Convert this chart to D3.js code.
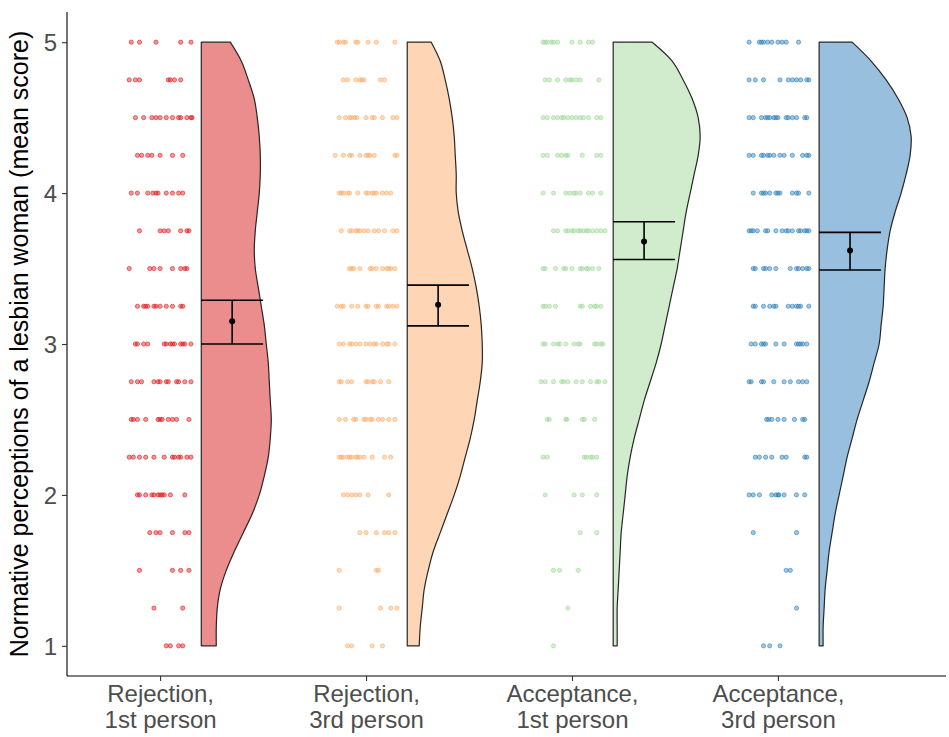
<!DOCTYPE html>
<html>
<head>
<meta charset="utf-8">
<script src="https://cdn.jsdelivr.net/npm/d3@7"></script>
<style>
  body { margin: 0; background: #fff; }
  text { font-family: Arial, "Liberation Sans", sans-serif; }
</style>
</head>
<body>
<svg id="chart" width="949" height="737"></svg>
<script>
// Conditions, in axis order
const categories = [
  "Rejection, 1st person",
  "Rejection, 3rd person",
  "Acceptance, 1st person",
  "Acceptance, 3rd person"
];
const pointColors = ["#e0191c", "#fdae6b", "#a1d99b", "#3182bd"];
const violinColors = ["#d7191c", "#fdae6b", "#a1d99b", "#3182bd"];

// Mean score with lower / upper bound of the interval, per condition
const meanScores = [3.15, 3.26, 3.68, 3.62];
const ciLower = [3.00, 3.12, 3.56, 3.49];
const ciUpper = [3.29, 3.39, 3.81, 3.74];

const yTicks = [1, 2, 3, 4, 5];

// Score grid on which the half-violin densities are estimated
const densityScores = [1.000, 1.125, 1.250, 1.375, 1.500, 1.625, 1.750, 1.875,
  2.000, 2.125, 2.250, 2.375, 2.500, 2.625, 2.750, 2.875,
  3.000, 3.125, 3.250, 3.375, 3.500, 3.625, 3.750, 3.875,
  4.000, 4.125, 4.250, 4.375, 4.500, 4.625, 4.750, 4.875, 5.000];

const densityRej1 = [0.15,0.15,0.16,0.19,0.25,0.33,0.42,0.51,0.58,0.63,0.67,0.69,0.70,0.69,0.68,0.67,
  0.65,0.63,0.60,0.57,0.54,0.53,0.54,0.56,0.58,0.59,0.59,0.58,0.56,0.53,0.47,0.40,0.29];
const densityRej3 = [0.12,0.13,0.15,0.17,0.21,0.26,0.33,0.40,0.47,0.53,0.58,0.63,0.67,0.70,0.73,0.75,
  0.75,0.74,0.72,0.69,0.65,0.60,0.55,0.51,0.49,0.49,0.48,0.47,0.45,0.42,0.38,0.33,0.24];
const densityAcc1 = [0.04,0.04,0.04,0.05,0.06,0.07,0.08,0.10,0.12,0.14,0.17,0.21,0.26,0.31,0.37,0.43,
  0.48,0.52,0.56,0.60,0.64,0.67,0.70,0.73,0.77,0.81,0.85,0.87,0.85,0.79,0.70,0.59,0.39];
const densityAcc3 = [0.04,0.04,0.05,0.06,0.08,0.10,0.13,0.16,0.20,0.24,0.28,0.33,0.38,0.44,0.50,0.55,
  0.60,0.62,0.64,0.65,0.66,0.68,0.71,0.76,0.82,0.87,0.91,0.92,0.88,0.79,0.67,0.52,0.33];

// Individual participant scores: [score, horizontal jitter of each participant at that score]
const scoresRej1 = [
  [5.00, [-0.14,-0.10,-0.02,0.10,0.15]],
  [4.75, [-0.15,-0.12,-0.10,0.04,0.05,0.07,0.10]],
  [4.50, [-0.12,-0.08,-0.04,-0.02,0.00,0.03,0.06,0.09,0.10,0.13,0.15,0.155]],
  [4.25, [-0.11,-0.09,-0.06,-0.04,0.00,0.06,0.11]],
  [4.00, [-0.14,-0.11,-0.06,-0.035,-0.02,-0.01,0.03,0.06,0.09,0.11]],
  [3.75, [-0.10,0.00,0.02,0.04,0.10,0.13,0.14]],
  [3.50, [-0.15,-0.05,-0.03,0.00,0.06,0.10,0.12,0.13]],
  [3.25, [-0.11,-0.08,-0.07,-0.06,-0.03,-0.02,0.00,0.03,0.06,0.10,0.11]],
  [3.00, [-0.12,-0.11,-0.08,-0.06,0.02,0.03,0.05,0.06,0.07,0.10,0.11,0.12,0.15]],
  [2.75, [-0.14,-0.11,-0.09,-0.03,-0.01,0.00,0.03,0.04,0.08,0.09,0.12,0.15]],
  [2.50, [-0.14,-0.13,-0.11,-0.07,-0.01,0.00,0.01,0.04,0.06,0.08,0.14]],
  [2.25, [-0.15,-0.13,-0.10,-0.07,-0.03,0.02,0.06,0.07,0.09,0.10,0.13,0.15]],
  [2.00, [-0.11,-0.10,-0.07,-0.04,-0.03,-0.01,0.00,0.01,0.02,0.05,0.12]],
  [1.75, [-0.05,-0.02,0.00,0.06,0.12,0.14]],
  [1.50, [-0.10,0.06,0.10,0.14]],
  [1.25, [-0.03,0.11]],
  [1.00, [0.03,0.05,0.09,0.11]]
];
const scoresRej3 = [
  [5.00, [-0.14,-0.13,-0.11,-0.10,-0.05,-0.04,0.01,0.05,0.14]],
  [4.75, [-0.11,-0.09,-0.05,-0.03,-0.02,-0.01,0.07,0.09]],
  [4.50, [-0.13,-0.10,-0.08,-0.07,-0.055,-0.045,0.00,0.03,0.04,0.08,0.13,0.15]],
  [4.25, [-0.15,-0.11,-0.08,-0.07,-0.03,0.00,0.01,0.02,0.04,0.14,0.15]],
  [4.00, [-0.13,-0.12,-0.11,-0.09,-0.08,-0.04,0.00,0.01,0.03,0.04,0.05,0.08,0.10,0.12]],
  [3.75, [-0.12,-0.08,-0.07,-0.05,-0.04,-0.03,-0.01,0.01,0.04,0.06,0.09,0.13,0.15]],
  [3.50, [-0.08,-0.07,-0.06,-0.03,0.02,0.03,0.05,0.08,0.10,0.11,0.12,0.14]],
  [3.25, [-0.14,-0.12,-0.11,-0.07,-0.04,0.00,0.01,0.05,0.06,0.10,0.11,0.13,0.15]],
  [3.00, [-0.13,-0.11,-0.08,-0.07,-0.05,-0.03,0.00,0.02,0.04,0.05,0.08,0.10,0.11,0.14]],
  [2.75, [-0.13,-0.12,-0.09,-0.07,0.00,0.01,0.03,0.04,0.07,0.11]],
  [2.50, [-0.13,-0.10,-0.06,-0.05,-0.01,0.00,0.02,0.03,0.06,0.08,0.11,0.14]],
  [2.25, [-0.13,-0.12,-0.11,-0.09,-0.08,-0.07,-0.05,-0.04,-0.03,-0.01,0.03,0.09,0.12]],
  [2.00, [-0.11,-0.09,-0.07,-0.05,-0.03,0.01,0.11]],
  [1.75, [-0.03,0.00,0.05,0.09,0.11,0.14]],
  [1.50, [-0.13,0.05,0.06]],
  [1.25, [-0.13,0.07,0.12,0.15]],
  [1.00, [-0.09,-0.07,0.03,0.08]]
];
const scoresAcc1 = [
  [5.00, [-0.14,-0.13,-0.12,-0.10,-0.09,-0.07,0.00,0.04,0.08,0.10]],
  [4.75, [-0.13,-0.11,-0.07,-0.03,-0.01,0.00,0.02,0.04,0.13]],
  [4.50, [-0.14,-0.12,-0.09,-0.07,-0.05,-0.04,-0.02,0.00,0.02,0.04,0.055,0.08,0.12,0.14]],
  [4.25, [-0.14,-0.12,-0.07,-0.05,-0.03,-0.02,0.05,0.12,0.14]],
  [4.00, [-0.14,-0.09,-0.03,-0.01,0.01,0.02,0.04,0.08,0.10,0.14]],
  [3.75, [-0.09,-0.07,-0.03,-0.02,0.00,0.01,0.03,0.04,0.055,0.07,0.08,0.10,0.12,0.14,0.16]],
  [3.50, [-0.14,-0.13,-0.08,-0.04,-0.03,0.00,0.04,0.05,0.07,0.08,0.10,0.13]],
  [3.25, [-0.14,-0.13,-0.11,-0.08,0.04,0.05,0.09,0.11,0.12,0.14]],
  [3.00, [-0.14,-0.13,-0.09,-0.07,-0.06,-0.03,0.01,0.03,0.04,0.11,0.12,0.14,0.15]],
  [2.75, [-0.15,-0.13,-0.09,-0.05,-0.04,-0.02,0.02,0.05,0.09,0.12,0.13,0.16]],
  [2.50, [-0.12,-0.11,-0.03,-0.025,0.05,0.06,0.11]],
  [2.25, [-0.14,-0.12,0.06,0.07,0.09,0.10,0.12]],
  [2.00, [-0.13,0.01,0.05,0.12]],
  [1.75, [0.04,0.12]],
  [1.50, [-0.09,-0.06,0.03]],
  [1.25, [-0.02]],
  [1.00, [-0.09]]
];
const scoresAcc3 = [
  [5.00, [-0.14,-0.09,-0.08,-0.07,-0.05,-0.03,0.00,0.02,0.04,0.10]],
  [4.75, [-0.14,-0.11,-0.07,0.01,0.05,0.07,0.09,0.11,0.14,0.15]],
  [4.50, [-0.14,-0.12,-0.08,-0.06,-0.05,-0.04,-0.02,-0.01,0.00,0.04,0.05,0.07,0.09,0.13,0.14]],
  [4.25, [-0.14,-0.12,-0.08,-0.07,-0.05,-0.04,-0.02,0.01,0.03,0.07,0.12,0.14,0.15]],
  [4.00, [-0.12,-0.08,-0.07,-0.06,-0.04,-0.01,0.00,0.01,0.07,0.09,0.10,0.15]],
  [3.75, [-0.14,-0.13,-0.12,-0.10,-0.06,-0.05,-0.01,0.02,0.04,0.05,0.07,0.10,0.11,0.13,0.14,0.15]],
  [3.50, [-0.12,-0.11,-0.07,-0.06,-0.04,-0.01,0.06,0.09,0.10,0.12,0.14,0.15]],
  [3.25, [-0.12,-0.11,-0.07,-0.04,-0.02,-0.01,0.05,0.07,0.09,0.10,0.11,0.15]],
  [3.00, [-0.13,-0.11,-0.08,-0.07,-0.06,-0.01,0.03,0.09,0.10,0.11,0.12,0.14]],
  [2.75, [-0.14,-0.13,-0.08,-0.07,-0.02,0.03,0.06,0.10,0.12,0.14]],
  [2.50, [-0.055,-0.045,-0.03,0.00,0.03,0.08,0.12,0.13]],
  [2.25, [-0.11,-0.09,-0.06,-0.03,0.02,0.04,0.13,0.14]],
  [2.00, [-0.14,-0.12,-0.09,-0.03,-0.01,0.00,0.005,0.03,0.09,0.13]],
  [1.75, [-0.12,0.09]],
  [1.50, [0.04,0.06]],
  [1.25, [0.09]],
  [1.00, [-0.07,-0.04,0.01]]
];

const densities = [densityRej1, densityRej3, densityAcc1, densityAcc3];
const participantScores = [scoresRej1, scoresRej3, scoresAcc1, scoresAcc3];

// ---- drawing ----
const svg = d3.select("#chart");
const panel = { left: 67, right: 946, top: 12, bottom: 676 };

// category positions are 1..4; domain leaves room for the half violins on the right
const x = d3.scaleLinear().domain([0.548, 4.816]).range([panel.left, panel.right]);
const y = d3.scaleLinear().domain([0.8, 5.2]).range([panel.bottom, panel.top]);
const violinWidth = d3.scaleLinear().domain([0, 1]).range([0, 100]);

const violinNudge = 0.2;   // half violin starts this far right of the category
const barStart = 0.2, barEnd = 0.5, barMid = 0.35;

// jittered raw scores
categories.forEach((cat, i) => {
  const g = svg.append("g");
  participantScores[i].forEach(([score, offsets]) => {
    g.selectAll(null).data(offsets).enter().append("circle")
      .attr("cx", d => x(i + 1 + d))
      .attr("cy", y(score))
      .attr("r", 2.1)
      .attr("fill", pointColors[i])
      .attr("fill-opacity", 0.45)
      .attr("stroke", pointColors[i])
      .attr("stroke-opacity", 0.75)
      .attr("stroke-width", 0.8);
  });
});

// half violins
categories.forEach((cat, i) => {
  const left = x(i + 1 + violinNudge);
  const pts = densityScores.map((s, k) => ({ score: s, density: densities[i][k] }));
  const area = d3.area()
    .curve(d3.curveCatmullRom)
    .y(d => y(d.score))
    .x0(left)
    .x1(d => left + violinWidth(d.density));
  svg.append("path")
    .attr("d", area(pts))
    .attr("fill", violinColors[i])
    .attr("fill-opacity", 0.5)
    .attr("stroke", "#262626")
    .attr("stroke-width", 1.2)
    .attr("stroke-linejoin", "round");
});

// mean and interval
categories.forEach((cat, i) => {
  const g = svg.append("g").attr("stroke", "#000").attr("stroke-width", 1.6);
  [ciLower[i], ciUpper[i]].forEach(v => {
    g.append("line")
      .attr("x1", x(i + 1 + barStart)).attr("x2", x(i + 1 + barEnd))
      .attr("y1", y(v)).attr("y2", y(v));
  });
  g.append("line")
    .attr("x1", x(i + 1 + barMid)).attr("x2", x(i + 1 + barMid))
    .attr("y1", y(ciLower[i])).attr("y2", y(ciUpper[i]));
  svg.append("circle")
    .attr("cx", x(i + 1 + barMid)).attr("cy", y(meanScores[i]))
    .attr("r", 3).attr("fill", "#000");
});

// y axis
const yAxis = svg.append("g")
  .attr("transform", `translate(${panel.left},0)`)
  .call(d3.axisLeft(y).tickValues(yTicks).tickSize(5).tickPadding(5).tickFormat(d3.format("d")));
yAxis.select(".domain").attr("d", `M0,${panel.top}V${panel.bottom}`).attr("stroke", "#000").attr("stroke-width", 1.1);
yAxis.selectAll(".tick line").attr("stroke", "#333").attr("stroke-width", 1.1);
yAxis.selectAll(".tick text").attr("font-size", 24).attr("fill", "#4d4d4d")
  .attr("font-family", "Arial, 'Liberation Sans', sans-serif").attr("dy", "0.36em");

// x axis
const xAxis = svg.append("g")
  .attr("transform", `translate(0,${panel.bottom})`)
  .call(d3.axisBottom(x).tickValues([1, 2, 3, 4]).tickSize(5).tickFormat(""));
xAxis.select(".domain").attr("d", `M${panel.left},0H${panel.right}`).attr("stroke", "#000").attr("stroke-width", 1.1);
xAxis.selectAll(".tick line").attr("stroke", "#333").attr("stroke-width", 1.1);
xAxis.selectAll(".tick").each(function(d) {
  const parts = categories[d - 1].split(", ");
  const t = d3.select(this).append("text")
    .attr("text-anchor", "middle")
    .attr("font-size", 24)
    .attr("fill", "#4d4d4d");
  t.append("tspan").attr("x", 0).attr("y", 26).text(parts[0] + ",");
  t.append("tspan").attr("x", 0).attr("y", 52).text(parts[1]);
});

// y title
svg.append("text")
  .attr("transform", `translate(28,${(panel.top + panel.bottom) / 2}) rotate(-90)`)
  .attr("text-anchor", "middle")
  .attr("font-size", 25)
  .attr("fill", "#000")
  .text("Normative perceptions of a lesbian woman (mean score)");
</script>
</body>
</html>
